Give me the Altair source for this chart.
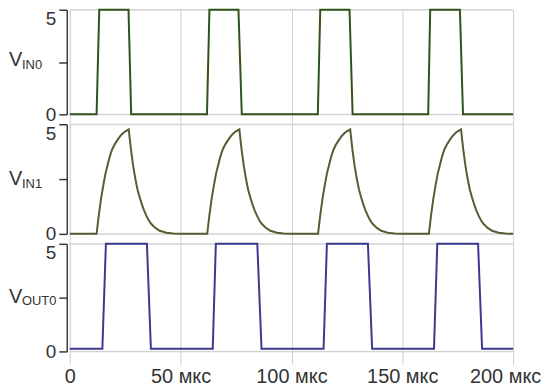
import altair as alt
import pandas as pd

FONT = "Liberation Sans"
TXT = "#333333"
AX = "#3a3a3a"
GRID = "#d0d0d0"

t_ticks = [0, 50, 100, 150, 200]
y_ticks = [0, 2.5, 5]

# V_IN0 : square pulses
in0_t = [0, 12.1, 13.3, 26.5, 27.7, 61.9, 63.0, 76.1, 77.6, 111.9, 113.0, 126.2, 127.6,
         161.7, 162.6, 176.0, 177.4, 200]
in0_v = [0, 0, 5, 5, 0, 0, 5, 5, 0, 0, 5, 5, 0, 0, 5, 5, 0, 0]

# V_IN1 : RC charge / discharge shape (time after each pulse start) and pulse starts
in1_start = [12.1, 62.0, 112.0, 162.0]
in1_dt = [0, 1, 2, 3, 4, 5, 6, 7, 8, 9, 10, 11, 12, 13, 14.5,
          15.5, 16.5, 17.5, 18.5, 19.5, 20.5, 21.5, 22.5, 23.5, 24.5, 26.5, 28.5, 31.5, 34.5, 37.5]
in1_v = [0, 0.85, 1.6, 2.2, 2.75, 3.15, 3.55, 3.85, 4.05, 4.22, 4.37, 4.5, 4.6, 4.68, 4.77,
         3.85, 3.1, 2.5, 2.0, 1.65, 1.32, 1.05, 0.82, 0.62, 0.47, 0.27, 0.14, 0.05, 0.015, 0]

# V_OUT0 : delayed square pulses
out0_t = [0, 14.7, 16.3, 34.8, 36.6, 64.5, 65.9, 84.6, 86.5, 114.5, 116.0, 134.5, 136.4,
          164.3, 165.8, 184.2, 186.0, 200]
out0_v = [0.12, 0.12, 5, 5, 0.12, 0.12, 5, 5, 0.12, 0.12, 5, 5, 0.12, 0.12, 5, 5, 0.12, 0.12]

names = ["V", "V", "V"]
subs = ["IN0", "IN1", "OUT0"]
colors = ["#30531a", "#5c5a30", "#3b3a8e"]

df0 = pd.DataFrame({"t": in0_t, "v": in0_v})
t1, v1 = [0], [0]
for s in in1_start:
    for d, v in zip(in1_dt, in1_v):
        t1.append(s + d)
        v1.append(v)
t1.append(200)
v1.append(0)
df1 = pd.DataFrame({"t": t1, "v": v1})
df2 = pd.DataFrame({"t": out0_t, "v": out0_v})

W = 445
heights = [105, 110, 108]
title_y = [57, 61, 59]


def panel(df, color, name, sub, h, ty, bottom):
    xaxis = alt.Axis(
        values=t_ticks, grid=True, gridColor=GRID, gridWidth=1, domain=False,
        ticks=True, tickColor=GRID, tickWidth=1, tickSize=13 if bottom else 10,
        labels=bottom, labelExpr="datum.value == 0 ? '0' : datum.label + ' мкс'",
        labelFlush=False, labelOverlap=False,
        labelOffset={"condition": {"test": "datum.value == 200", "value": -8}, "value": 0},
        labelFont=FONT, labelFontSize=20, labelColor=TXT, labelPadding=2,
        title=None,
    )
    yaxis = alt.Axis(
        values=y_ticks, grid=False, domain=True, domainColor=AX, domainWidth=1.5,
        ticks=True, tickColor=AX, tickWidth=1.5, tickSize=8, offset=3,
        labelExpr="datum.value == 2.5 ? '' : datum.label",
        labelBaseline={"condition": {"test": "datum.value == 5", "value": "top"}, "value": "middle"},
        labelFont=FONT, labelFontSize=19, labelColor=TXT, labelPadding=3,
        title=None,
    )
    xs = alt.X("t:Q", scale=alt.Scale(domain=[0, 200], nice=False, zero=False), axis=xaxis)
    ys = alt.Y("v:Q", scale=alt.Scale(domain=[0, 5], nice=False), axis=yaxis)
    rules = alt.Chart(pd.DataFrame({"v": [0, 5]})).mark_rule(color=GRID, strokeWidth=1).encode(y=ys)
    line = alt.Chart(df).mark_line(color=color, strokeWidth=2).encode(x=xs, y=ys)
    tv = alt.Chart(pd.DataFrame({"s": [name]})).mark_text(
        align="left", baseline="alphabetic", font=FONT, fontSize=20, color=TXT
    ).encode(text="s:N", x=alt.value(-61), y=alt.value(ty))
    ts = alt.Chart(pd.DataFrame({"s": [sub]})).mark_text(
        align="left", baseline="alphabetic", font=FONT, fontSize=13, color=TXT
    ).encode(text="s:N", x=alt.value(-48), y=alt.value(ty + 2.5))
    return alt.layer(rules, line, tv, ts).properties(width=W, height=h)


dfs = [df0, df1, df2]
panels = [panel(dfs[i], colors[i], names[i], subs[i], heights[i], title_y[i], i == 2) for i in range(3)]

chart = alt.vconcat(*panels, spacing=10, bounds="flush").properties(
    padding={"left": 0, "top": -4, "right": 0, "bottom": 0}
).configure_view(strokeOpacity=0).configure(background="white")

chart.save("out.html", embed_options={"renderer": "svg", "actions": False})
